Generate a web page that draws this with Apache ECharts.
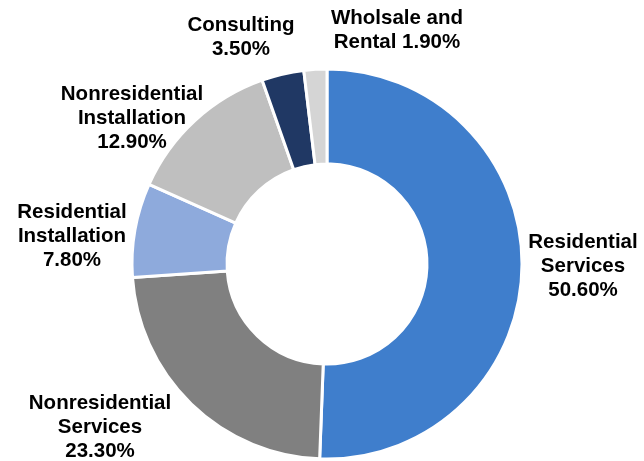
<!DOCTYPE html>
<html>
<head>
<meta charset="utf-8">
<script src="https://cdn.jsdelivr.net/npm/echarts@6/dist/echarts.min.js"></script>
<style>html,body{margin:0;padding:0;background:#fff}#c{width:644px;height:461px}</style>
</head>
<body>
<div id="c"></div>
<script>
const categories = ['Residential\nServices', 'Nonresidential\nServices', 'Residential\nInstallation', 'Nonresidential\nInstallation', 'Consulting', 'Wholsale and\nRental'];
const values = [50.6, 23.3, 7.8, 12.9, 3.5, 1.9];
const separators = ['\n', '\n', '\n', '\n', '\n', ' '];
const colors = ['#3F7ECC', '#808080', '#8EAADC', '#BFBFBF', '#203864', '#D5D5D5'];
const labelPos = [[583, 266], [100, 427], [72, 236], [132, 118], [241, 37], [397, 30]];

const chart = echarts.init(document.getElementById('c'), null, {renderer: 'canvas'});
chart.setOption({
  animation: false,
  series: [{
    type: 'pie',
    center: [327, 264],
    radius: [100, 195],
    startAngle: 90,
    clockwise: true,
    avoidLabelOverlap: false,
    itemStyle: {borderColor: '#fff', borderWidth: 3},
    label: {
      show: true,
      position: 'outside',
      fontFamily: 'Liberation Sans, Arial, sans-serif',
      fontWeight: 'bold',
      fontSize: 20.5,
      lineHeight: 24,
      color: '#000',
      align: 'center',
      formatter: p => p.name + separators[p.dataIndex] + p.value.toFixed(2) + '%'
    },
    labelLine: {show: false},
    labelLayout: p => ({x: labelPos[p.dataIndex][0], y: labelPos[p.dataIndex][1], align: 'center', verticalAlign: 'middle'}),
    data: categories.map((c, i) => ({name: c, value: values[i], itemStyle: {color: colors[i]}}))
  }]
});
</script>
</body>
</html>
